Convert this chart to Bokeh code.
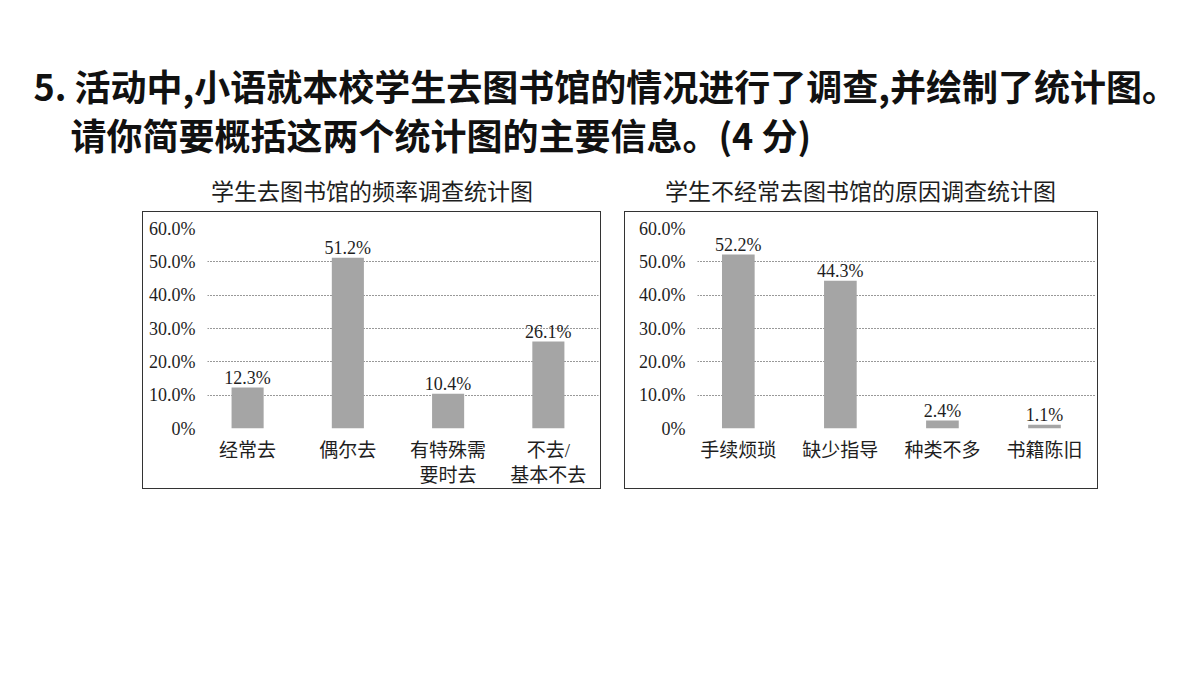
from bokeh.plotting import figure
from bokeh.models import Range1d, FixedTicker, Spacer
from bokeh.layouts import column, row
from bokeh.core.properties import value
from bokeh.embed import file_html
from bokeh.resources import INLINE

# ---------------- data ----------------
question_line1 = "5. 活动中,小语就本校学生去图书馆的情况进行了调查,并绘制了统计图。"
question_line2 = "请你简要概括这两个统计图的主要信息。(4 分)"

freq_title = "学生去图书馆的频率调查统计图"
freq_categories = ["经常去", "偶尔去", "有特殊需\n要时去", "不去/\n基本不去"]
freq_values = [12.3, 51.2, 10.4, 26.1]

reason_title = "学生不经常去图书馆的原因调查统计图"
reason_categories = ["手续烦琐", "缺少指导", "种类不多", "书籍陈旧"]
reason_values = [52.2, 44.3, 2.4, 1.1]

y_ticks = [0, 10, 20, 30, 40, 50, 60]
y_tick_labels = ["0%", "10.0%", "20.0%", "30.0%", "40.0%", "50.0%", "60.0%"]

# ---------------- styles ----------------
CJK = value("Noto Sans CJK SC")
SERIF = value("Liberation Serif")
MIXED_FONT = "Liberation Serif, Noto Sans CJK SC"
TXT = "#1e1e1e"
BAR = "#a5a5a5"

# ---------------- header (question + chart titles) ----------------
HEADER_H = 212
header = figure(width=1200, height=HEADER_H, x_range=Range1d(0, 1200), y_range=Range1d(HEADER_H, 0),
                x_axis_type=None, y_axis_type=None, output_backend="svg",
                toolbar_location=None, min_border=0, outline_line_color=None)
header.grid.visible = False
header.text(x=[33], y=[84], text=[question_line1], text_font=CJK, text_font_style="bold",
            text_font_size="36px", text_baseline="middle", text_color="#111111")
header.text(x=[70], y=[133], text=[question_line2], text_font=CJK, text_font_style="bold",
            text_font_size="36px", text_baseline="middle", text_color="#111111")
header.text(x=[371.5, 860], y=[189, 189], text=[freq_title, reason_title], text_font=CJK,
            text_font_size="23px", text_align="center", text_baseline="middle", text_color=TXT)


def make_chart(categories, values, width, border_left):
    xs = [i + 0.5 for i in range(len(categories))]
    p = figure(width=width, height=276, x_range=Range1d(0.1, 4.0), y_range=Range1d(0, 60),
               output_backend="svg", toolbar_location=None,
               min_border_left=border_left, min_border_right=2,
               min_border_top=16, min_border_bottom=60, outline_line_color=None)
    p.styles = {"outline": "1.5px solid #333333"}
    p.vbar(x=xs, top=values, bottom=0, width=0.32, fill_color=BAR, line_color=None)
    p.text(x=xs, y=values, text=[f"{v:.1f}%" for v in values], text_align="center",
           text_baseline="alphabetic", y_offset=-10, text_font=SERIF, text_font_size="18px",
           text_color=TXT)

    p.xaxis.ticker = FixedTicker(ticks=xs)
    p.xaxis.major_label_overrides = dict(zip(xs, categories))
    p.xaxis.major_label_text_font = MIXED_FONT
    p.xaxis.major_label_text_font_size = "19px"
    p.xaxis.major_label_text_color = TXT
    p.xaxis.major_label_standoff = 5
    p.yaxis.ticker = FixedTicker(ticks=y_ticks)
    p.yaxis.major_label_overrides = dict(zip(y_ticks, y_tick_labels))
    p.yaxis.major_label_text_font = "Liberation Serif"
    p.yaxis.major_label_text_font_size = "18px"
    p.yaxis.major_label_text_color = TXT
    p.yaxis.major_label_standoff = 6
    for ax in (p.xaxis, p.yaxis):
        ax.axis_line_color = None
        ax.major_tick_line_color = None
        ax.minor_tick_line_color = None

    p.xgrid.visible = False
    p.ygrid.ticker = FixedTicker(ticks=y_ticks)
    p.ygrid.grid_line_color = "#333333"
    p.ygrid.grid_line_dash = "1 2"
    p.ygrid.grid_line_width = 1
    return p


c1 = make_chart(freq_categories, freq_values, 457, 64)
c2 = make_chart(reason_categories, reason_values, 472, 72)

layout = column(header, row(Spacer(width=143, height=276), c1, Spacer(width=25, height=276), c2))
open("out.html", "w").write(file_html(layout, INLINE))
